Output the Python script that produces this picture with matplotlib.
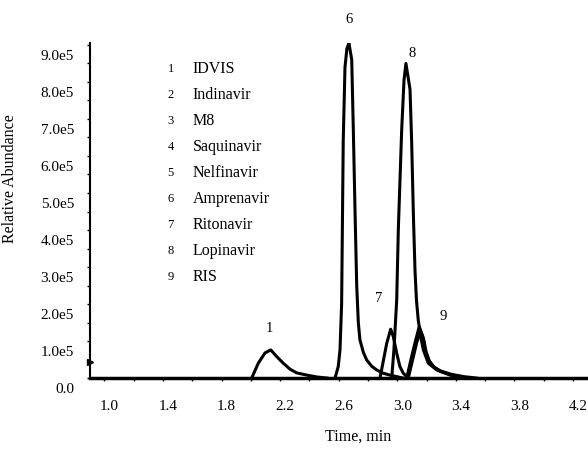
import numpy as np
import matplotlib
matplotlib.use("Agg")
import matplotlib.pyplot as plt
import matplotlib.transforms as mtransforms
from matplotlib.ticker import MultipleLocator, FuncFormatter

plt.rcParams['font.family'] = ['Liberation Serif', 'DejaVu Serif']

# abundance values are in units of 1e5
idvis_t = [2.006, 2.051, 2.097, 2.136, 2.177, 2.222, 2.268, 2.313, 2.382, 2.45, 2.52]
idvis_a = [0.0, 0.40, 0.68, 0.76, 0.58, 0.40, 0.24, 0.14, 0.08, 0.03, 0.0]

ampren_t = [2.575, 2.597, 2.609, 2.620, 2.631, 2.643, 2.656, 2.670, 2.689, 2.700,
            2.711, 2.723, 2.734, 2.745, 2.768, 2.791, 2.825, 2.859, 2.904, 2.950, 3.039]
ampren_a = [0.0, 0.31, 0.76, 2.0, 6.4, 8.4, 8.9, 9.05, 8.6, 6.7,
            4.6, 2.5, 1.5, 1.03, 0.7, 0.49, 0.32, 0.22, 0.13, 0.08, 0.0]

riton_t = [2.882, 2.904, 2.928, 2.955, 2.973, 2.996, 3.018, 3.041, 3.075]
riton_a = [0.0, 0.45, 0.94, 1.32, 1.12, 0.67, 0.31, 0.13, 0.0]

lopin_t = [2.962, 2.977, 2.996, 3.007, 3.030, 3.046, 3.059, 3.087, 3.098, 3.110,
           3.121, 3.131, 3.143, 3.160, 3.178, 3.212, 3.269, 3.360, 3.451]
lopin_a = [0.0, 0.76, 2.1, 4.0, 6.7, 8.05, 8.5, 7.8, 6.4, 4.4,
           2.9, 2.1, 1.57, 1.12, 0.76, 0.40, 0.22, 0.08, 0.0]

ris_t = [3.064, 3.098, 3.126, 3.150, 3.175, 3.189, 3.212, 3.246, 3.291, 3.36, 3.451, 3.542]
ris_a = [0.0, 0.58, 1.03, 1.39, 1.12, 0.76, 0.49, 0.31, 0.20, 0.11, 0.04, 0.0]

ris2_t = [3.075, 3.105, 3.132, 3.157, 3.180, 3.196, 3.220, 3.255, 3.30, 3.37, 3.46]
ris2_a = [0.0, 0.50, 0.95, 1.25, 1.05, 0.72, 0.45, 0.28, 0.17, 0.09, 0.0]

legend_nums = ['1', '2', '3', '4', '5', '6', '7', '8', '9']
legend_names = ['IDVIS', 'Indinavir', 'M8', 'Saquinavir', 'Nelfinavir',
                'Amprenavir', 'Ritonavir', 'Lopinavir', 'RIS']

peak_labels = ['6', '8', '7', '1', '9']
peak_label_t = [2.670, 3.098, 2.875, 2.124, 3.314]
peak_label_a = [9.70, 8.78, 2.15, 1.34, 1.66]

marker_a = 0.44

fig = plt.figure(figsize=(5.88, 4.49), dpi=100)
ax = fig.add_axes([0.153, 0.158, 0.847, 0.746])

for t, a in [(idvis_t, idvis_a), (ampren_t, ampren_a), (riton_t, riton_a),
             (lopin_t, lopin_a), (ris_t, ris_a), (ris2_t, ris2_a)]:
    ax.plot(t, np.array(a) * 1e5, color='black', lw=2.2, solid_joinstyle='round')

ax.set_xlim(0.902, 4.302)
ax.set_ylim(0, 9.05e5)

ax.plot([0.902], [marker_a * 1e5], marker='>', color='black', ms=5, clip_on=False)

# list of compounds
for i, (n, name) in enumerate(zip(legend_nums, legend_names)):
    y = (8.34 - 0.70 * i) * 1e5
    ax.text(1.453, y, n, fontsize=9, ha='center', va='center')
    ax.text(1.603, y, name, fontsize=11.5, ha='left', va='center')

for lab, t, a in zip(peak_labels, peak_label_t, peak_label_a):
    ax.text(t, a * 1e5, lab, fontsize=10.5, ha='center', va='center')

ax.spines['top'].set_visible(False)
ax.spines['right'].set_visible(False)
ax.spines['left'].set_linewidth(1.5)
ax.spines['bottom'].set_linewidth(2.5)

ax.xaxis.set_major_locator(MultipleLocator(0.4, offset=0.2))
ax.xaxis.set_minor_locator(MultipleLocator(0.2))
ax.yaxis.set_major_locator(MultipleLocator(1e5))
ax.yaxis.set_minor_locator(MultipleLocator(0.5e5))
ax.xaxis.set_major_formatter(FuncFormatter(lambda v, p: f"{v:.1f}"))
ax.yaxis.set_major_formatter(
    FuncFormatter(lambda v, p: "0.0" if v == 0 else f"{v/1e5:.1f}e5"))

ax.tick_params(axis='both', which='both', direction='out', length=2.5, width=1)
ax.tick_params(axis='x', which='major', pad=13, labelsize=11)
ax.tick_params(axis='y', which='major', pad=9, labelsize=11)

# labels sit a bit off their ticks in the original
off_y = mtransforms.ScaledTranslation(0, -10 / 100, fig.dpi_scale_trans)
for lbl in ax.get_yticklabels():
    lbl.set_transform(lbl.get_transform() + off_y)
off_x = mtransforms.ScaledTranslation(5 / 100, 0, fig.dpi_scale_trans)
for lbl in ax.get_xticklabels():
    lbl.set_transform(lbl.get_transform() + off_x)

ax.set_xlabel("Time, min", fontsize=11.5)
ax.set_ylabel("Relative Abundance", fontsize=11.5)
ax.xaxis.set_label_coords(0.538, -0.152)
ax.yaxis.set_label_coords(-0.145, 0.594)

fig.savefig("out.png", dpi=100)
